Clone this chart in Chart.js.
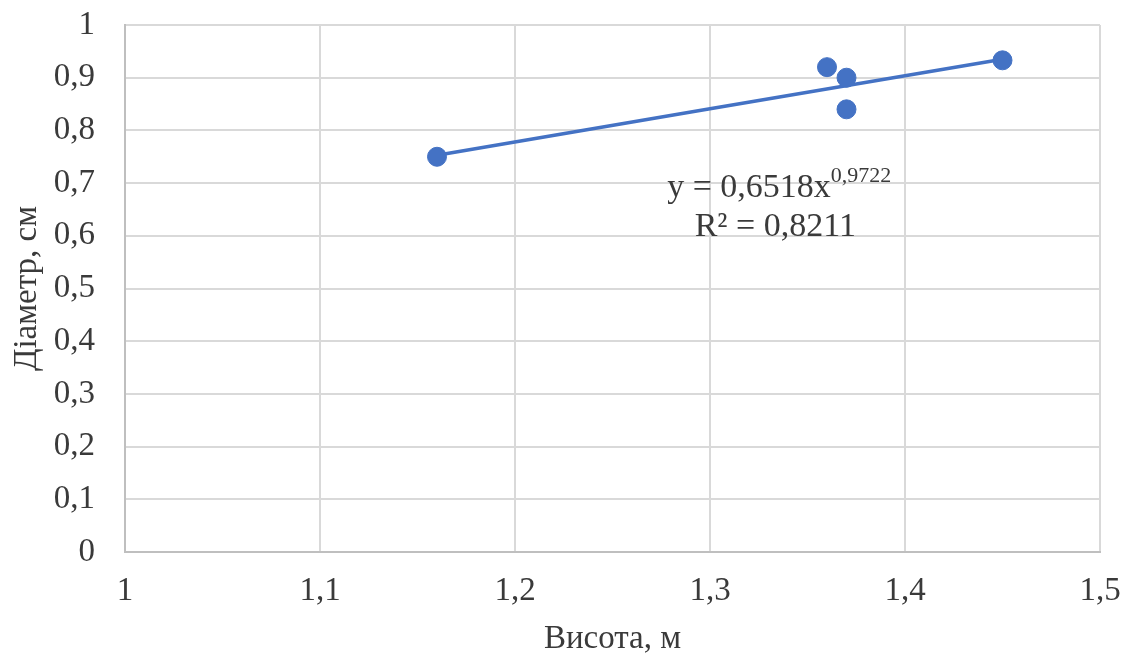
<!DOCTYPE html>
<html><head><meta charset="utf-8">
<script src="https://cdn.jsdelivr.net/npm/chart.js@4.4.0/dist/chart.umd.min.js"></script>
<style>html,body{margin:0;padding:0;background:#fff}#wrap{width:1133px;height:659px}</style>
</head><body><div id="wrap"><canvas id="c" width="1133" height="659"></canvas></div>
<script>
const heights = [1.16, 1.36, 1.37, 1.37, 1.45];
const diameters = [0.75, 0.92, 0.90, 0.84, 0.933];
const trendX = [1.16, 1.30, 1.45];
const trendY = [0.753, 0.841, 0.935];
const xTicks = [1, 1.1, 1.2, 1.3, 1.4, 1.5];
const yTicks = [0, 0.1, 0.2, 0.3, 0.4, 0.5, 0.6, 0.7, 0.8, 0.9, 1];
const eqText = ['y = 0,6518x', '0,9722'];
const r2Text = 'R² = 0,8211';
const xTitle = 'Висота, м';
const yTitle = 'Діаметр, см';

const FONT = '"Liberation Serif", "Times New Roman", serif';
const TXT = '#3a3a3a';
const fmt = v => String(Math.round(v*10)/10).replace('.', ',');

const annot = {
  id: 'annot',
  afterDatasetsDraw(chart) {
    const ctx = chart.ctx, xs = chart.scales.x, ys = chart.scales.y;
    ctx.save();
    ctx.fillStyle = TXT;
    ctx.textBaseline = 'alphabetic';
    ctx.font = '34px ' + FONT;
    const w1 = ctx.measureText(eqText[0]).width;
    ctx.font = '22px ' + FONT;
    const w2 = ctx.measureText(eqText[1]).width;
    const cx = xs.getPixelForValue(1.3355);
    const y1 = ys.getPixelForValue(0.673);
    const start = cx - (w1 + w2) / 2;
    ctx.font = '34px ' + FONT;
    ctx.textAlign = 'left';
    ctx.fillText(eqText[0], start, y1);
    ctx.font = '22px ' + FONT;
    ctx.fillText(eqText[1], start + w1, y1 - 15);
    ctx.font = '34px ' + FONT;
    ctx.textAlign = 'center';
    ctx.fillText(r2Text, xs.getPixelForValue(1.3335), ys.getPixelForValue(0.6));
    ctx.restore();
  }
};

new Chart(document.getElementById('c'), {
  type: 'scatter',
  data: {
    datasets: [
      {
        type: 'line',
        data: trendX.map((x, i) => ({x, y: trendY[i]})),
        borderColor: '#4472C4',
        borderWidth: 3.5,
        pointRadius: 0,
        tension: 0,
        fill: false,
        order: 2
      },
      {
        data: heights.map((x, i) => ({x, y: diameters[i]})),
        backgroundColor: '#4472C4',
        borderColor: '#4472C4',
        pointRadius: 9.5,
        pointHoverRadius: 9.5,
        order: 1
      }
    ]
  },
  options: {
    responsive: false,
    animation: false,
    events: [],
    layout: { padding: { top: 25, right: 33, left: 0, bottom: 0 } },
    plugins: { legend: { display: false }, tooltip: { enabled: false } },
    scales: {
      x: {
        type: 'linear', min: 1, max: 1.5,
        afterBuildTicks: s => { s.ticks = xTicks.map(v => ({value: v})); },
        afterFit: s => { s.height = 107; s.paddingLeft = 0; s.paddingRight = 0; },
        grid: { color: '#d9d9d9', lineWidth: 2, drawTicks: false },
        border: { color: '#bfbfbf', width: 2 },
        ticks: { color: TXT, font: { family: FONT, size: 33 }, padding: 20, callback: fmt, maxRotation: 0 },
        title: { display: true, text: xTitle, color: TXT, font: { family: FONT, size: 33 }, padding: { top: 4, bottom: 0 } }
      },
      y: {
        type: 'linear', min: 0, max: 1,
        afterBuildTicks: s => { s.ticks = yTicks.map(v => ({value: v})); },
        afterFit: s => { s.width = 125; s.paddingTop = 0; s.paddingBottom = 0; },
        grid: { color: '#d9d9d9', lineWidth: 2, drawTicks: false },
        border: { color: '#bfbfbf', width: 2 },
        ticks: { color: TXT, font: { family: FONT, size: 33 }, padding: 30, callback: fmt },
        title: { display: true, text: yTitle, color: TXT, font: { family: FONT, size: 33 }, padding: { top: 8, bottom: 0 } }
      }
    }
  },
  plugins: [annot]
});
</script></body></html>
